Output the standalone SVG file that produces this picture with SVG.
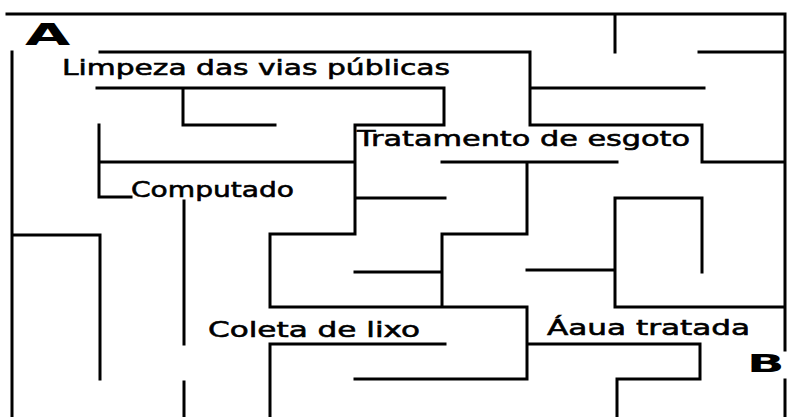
<svg xmlns="http://www.w3.org/2000/svg" width="787" height="417" viewBox="0 0 787 417">
<style>
.w{fill:none;stroke:#000;stroke-width:3;stroke-linecap:square;stroke-linejoin:miter}
.t{font-family:"DejaVu Sans","Liberation Sans",sans-serif;font-size:22px;fill:#000;stroke:#000;stroke-width:0.6}
.big{font-family:"DejaVu Sans","Liberation Sans",sans-serif;font-weight:bold;fill:#000}
</style>
<rect x="0" y="0" width="787" height="417" fill="#fff"/>
<g id="walls">
<path class="w" d="M7 14H785V350M785 380V417M12 52V417
M615 14V52M699 52H785
M100 52H530V125M97 88H444V125H355V234H270V307H527V379H355
M530 88H704M530 125H702V162H785
M183 88V125H275
M99 125V197H131M99 162H355
M355 198H445
M442 162H617M527 162V234H442V307
M355 272H442
M615 307V198H702V272M615 307H785
M527 270H615
M270 417V344H445
M527 344H700V379H617V417
M12 235H100V379
M184 201V344M184 382V417"/>
</g>
<g id="labels">
<text class="big" font-size="30" transform="translate(25,45) scale(1.95,1)">A</text>
<text class="big" font-size="24" transform="translate(747,372) scale(2.05,1)">B</text>
<text id="limpeza" class="t" x="62" y="75" textLength="388" lengthAdjust="spacingAndGlyphs">Limpeza das vias públicas</text>
<text id="tratamento" class="t" x="357" y="146" textLength="333" lengthAdjust="spacingAndGlyphs">Tratamento de esgoto</text>
<text id="computado" class="t" x="131" y="197" textLength="163" lengthAdjust="spacingAndGlyphs">Computado</text>
<text id="coleta" class="t" x="208" y="337" textLength="212" lengthAdjust="spacingAndGlyphs">Coleta de lixo</text>
<text id="agua" class="t" x="547" y="335" textLength="203" lengthAdjust="spacingAndGlyphs">Áaua tratada</text>
</g>
</svg>
